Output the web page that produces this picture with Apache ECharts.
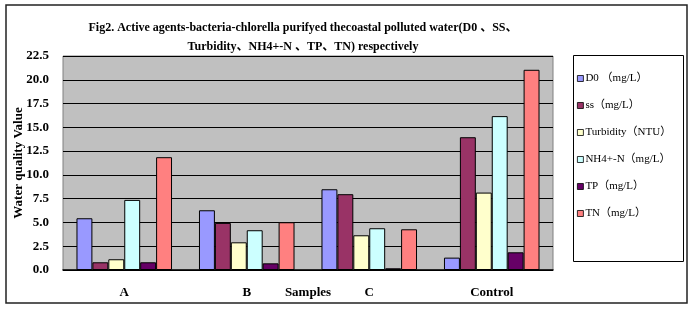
<!DOCTYPE html>
<html>
<head>
<meta charset="utf-8">
<script src="https://cdn.jsdelivr.net/npm/echarts@6/dist/echarts.min.js"></script>
<style>
  html, body { margin: 0; padding: 0; background: #fff; }
  #chart { width: 694px; height: 310px; }
</style>
</head>
<body>
<div id="chart"></div>
<script>
// data
var categories = ['A', 'B', 'C', 'Control'];
var seriesNames = ['D0 （mg/L）', 'ss（mg/L）', 'Turbidity（NTU）', 'NH4+-N（mg/L）', 'TP（mg/L）', 'TN（mg/L）'];
var doVals = [5.44, 6.28, 8.49, 1.30];
var ssVals = [0.81, 4.95, 7.97, 13.96];
var turbidityVals = [1.13, 2.91, 3.65, 8.14];
var nh4Vals = [7.37, 4.18, 4.39, 16.18];
var tpVals = [0.81, 0.70, 0.18, 1.86];
var tnVals = [11.86, 5.02, 4.28, 21.05];
var colors = ['#9999FF', '#993366', '#FFFFCC', '#CCFFFF', '#660066', '#FF8080'];

(function () {
    'use strict'

    var serif = '"Liberation Serif", "Noto Sans CJK SC", serif';
    var allVals = [doVals, ssVals, turbidityVals, nh4Vals, tpVals, tnVals];

    var series = allVals.map(function (vals, i) {
        return {
            name: seriesNames[i],
            type: 'bar',
            data: vals,
            barGap: '0%',
            barCategoryGap: '22%',
            itemStyle: { color: colors[i], borderColor: '#000', borderWidth: 1 }
        };
    });

    var chart = echarts.init(document.getElementById('chart'));
    chart.setOption({
        animation: false,
        backgroundColor: '#fff',
        color: colors,
        title: {
            text: 'Fig2. Active agents-bacteria-chlorella purifyed thecoastal polluted water(D0 、SS、\nTurbidity、NH4+-N 、TP、TN) respectively',
            left: 298,
            textAlign: 'center',
            top: 13,
            textStyle: { fontFamily: serif, fontSize: 12, fontWeight: 'bold', color: '#000', lineHeight: 19 }
        },
        graphic: [
            { type: 'rect', shape: { x: 6, y: 5, width: 681, height: 298 },
              style: { fill: 'none', stroke: '#222', lineWidth: 1.5 }, silent: true },
            { type: 'rect', shape: { x: 573.5, y: 55.5, width: 110, height: 206 },
              style: { fill: '#fff', stroke: '#000', lineWidth: 1 }, silent: true, z: -1 }
        ],
        legend: {
            orient: 'vertical',
            left: 572,
            top: 68,
            itemWidth: 6,
            itemHeight: 6,
            itemGap: 16,
            icon: 'rect',
            itemStyle: { borderColor: '#000', borderWidth: 0.8 },
            textStyle: { fontFamily: serif, fontSize: 11, color: '#000', padding: [0, 0, 0, -3] },
            data: seriesNames
        },
        grid: {
            left: 63, right: 141, top: 56, bottom: 40,
            outerBoundsMode: 'none',
            containLabel: false,
            show: true, backgroundColor: '#C0C0C0', borderColor: '#808080', borderWidth: 1
        },
        xAxis: {
            type: 'category',
            data: categories,
            name: 'Samples',
            nameLocation: 'middle',
            nameGap: 16,
            nameMoveOverlap: false,
            nameTextStyle: { fontFamily: serif, fontSize: 13, fontWeight: 'bold', color: '#000', verticalAlign: 'top' },
            axisLine: { lineStyle: { color: '#000', width: 1.5 } },
            axisTick: { inside: true, length: 4, lineStyle: { color: '#000' } },
            axisLabel: { fontFamily: serif, fontSize: 13, fontWeight: 'bold', color: '#000', margin: 16 }
        },
        yAxis: {
            type: 'value',
            min: 0,
            max: 22.5,
            interval: 2.5,
            name: 'Water quality Value',
            nameLocation: 'middle',
            nameGap: 38,
            nameMoveOverlap: false,
            nameTextStyle: { fontFamily: serif, fontSize: 13, fontWeight: 'bold', color: '#000' },
            axisLine: { show: false },
            axisTick: { show: false },
            splitLine: { lineStyle: { color: '#000', width: 1 } },
            axisLabel: {
                fontFamily: serif, fontSize: 13, fontWeight: 'bold', color: '#000', margin: 14,
                formatter: function (v) { return v.toFixed(1); }
            }
        },
        series: series
    });
})();
</script>
</body>
</html>
